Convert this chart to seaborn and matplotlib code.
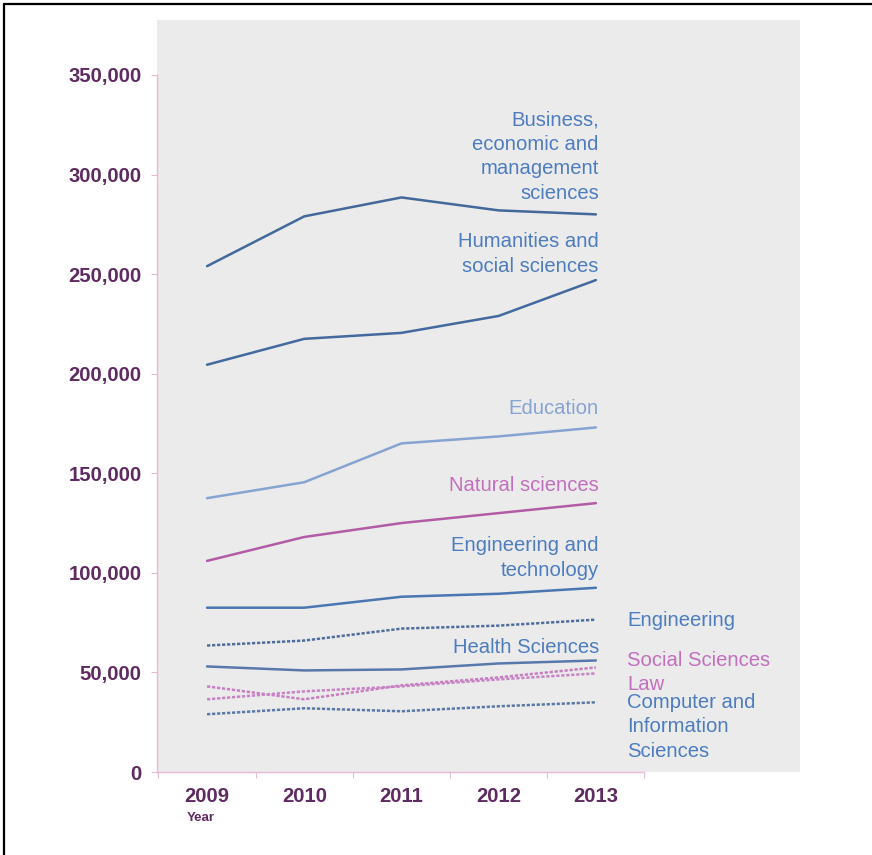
import matplotlib
matplotlib.use("Agg")
import matplotlib.pyplot as plt
import matplotlib.ticker as mticker
from matplotlib.lines import Line2D
import pandas as pd
import seaborn as sns

years = [2009, 2010, 2011, 2012, 2013]

business = [254000, 279000, 288500, 282000, 280000]
humanities = [204500, 217500, 220500, 229000, 247000]
education = [137500, 145500, 165000, 168500, 173000]
natural_sciences = [106000, 118000, 125000, 130000, 135000]
eng_technology = [82500, 82500, 88000, 89500, 92500]
engineering = [63500, 66000, 72000, 73500, 76500]
health = [53000, 51000, 51500, 54500, 56000]
social_sciences = [43000, 36500, 43500, 47500, 52500]
law = [36500, 40500, 43000, 46500, 49500]
computer = [29000, 32000, 30500, 33000, 35000]

series = [
    ("Business", business, "#43689a", "-"),
    ("Humanities", humanities, "#43699e", "-"),
    ("Education", education, "#86a3d2", "-"),
    ("Natural sciences", natural_sciences, "#b25ba6", "-"),
    ("Engineering and technology", eng_technology, "#4a76b2", "-"),
    ("Engineering", engineering, "#4f6d9c", (0, (1.3, 0.7))),
    ("Health Sciences", health, "#5878ac", "-"),
    ("Social Sciences", social_sciences, "#c77ec0", (0, (1.3, 0.7))),
    ("Law", law, "#c783c6", (0, (1.3, 0.7))),
    ("Computer", computer, "#5a78a8", (0, (1.3, 0.7))),
]

blue_txt = "#4d7cbf"
pink_txt = "#c26fbe"
purple = "#5f2a61"
axis_pink = "#e6b9d6"

sns.set_theme(style="white")
plt.rcParams["font.family"] = ["Liberation Sans", "DejaVu Sans"]

fig = plt.figure(figsize=(8.72, 8.55), dpi=100)
ax = fig.add_axes([157 / 872, 1 - 772 / 855, (800 - 157) / 872, (772 - 20) / 855])
ax.set_facecolor("#ebebeb")

for name, vals, color, ls in series:
    df = pd.DataFrame({"Year": years, "Value": vals})
    sns.lineplot(data=df, x="Year", y="Value", ax=ax, color=color,
                 linestyle=ls, linewidth=1.8)

ax.set_xlim(2008.485, 2015.1)
ax.set_ylim(0, 377600)

# labels inside the plot
fs = 14.6
lsp = 1.38
ax.text(2013.03, 309000, "Business,\neconomic and\nmanagement\nsciences",
        ha="right", va="center", color=blue_txt, fontsize=fs, linespacing=lsp)
ax.text(2013.03, 260000, "Humanities and\nsocial sciences",
        ha="right", va="center", color=blue_txt, fontsize=fs, linespacing=lsp)
ax.text(2013.03, 182400, "Education", ha="right", va="center",
        color="#86a3d2", fontsize=fs)
ax.text(2013.03, 143700, "Natural sciences", ha="right", va="center",
        color=pink_txt, fontsize=fs)
ax.text(2013.03, 107300, "Engineering and\ntechnology", ha="right",
        va="center", color=blue_txt, fontsize=fs, linespacing=lsp)
ax.text(2013.03, 62300, "Health Sciences", ha="right", va="center",
        color=blue_txt, fontsize=fs)

ax.text(2013.32, 75900, "Engineering", ha="left", va="center",
        color=blue_txt, fontsize=fs)
ax.text(2013.32, 55800, "Social Sciences", ha="left", va="center",
        color=pink_txt, fontsize=fs)
ax.text(2013.32, 43700, "Law", ha="left", va="center",
        color=pink_txt, fontsize=fs)
ax.text(2013.32, 22600, "Computer and\nInformation\nSciences", ha="left",
        va="center", color=blue_txt, fontsize=fs, linespacing=lsp)

# axes styling
for side in ["top", "right"]:
    ax.spines[side].set_visible(False)
ax.spines["left"].set_color(axis_pink)
ax.spines["bottom"].set_color(axis_pink)
ax.spines["left"].set_linewidth(1.0)
ax.spines["bottom"].set_linewidth(1.0)
ax.spines["left"].set_bounds(0, 350000)
ax.spines["bottom"].set_bounds(2008.485, 2013.5)

ax.set_yticks(range(0, 350001, 50000))
ax.yaxis.set_major_formatter(mticker.FuncFormatter(lambda v, p: f"{int(v):,}"))
ax.tick_params(axis="y", which="major", length=4, width=0.8, color=axis_pink,
               labelsize=14.6, labelcolor=purple, pad=7, left=True)

ax.set_xticks(years)
ax.set_xticklabels([str(y) for y in years])
ax.set_xticks([2008.5, 2009.5, 2010.5, 2011.5, 2012.5, 2013.5], minor=True)
ax.tick_params(axis="x", which="major", length=0, labelsize=14.6,
               labelcolor=purple, pad=11)
ax.tick_params(axis="x", which="minor", length=4, width=0.8,
               color=axis_pink, bottom=True)
for lbl in ax.get_xticklabels() + ax.get_yticklabels():
    lbl.set_fontweight("bold")

ax.set_xlabel("")
ax.set_ylabel("")
ax.grid(False)

fig.text(187 / 872, 1 - 818 / 855, "Year", ha="left", va="center",
         fontsize=9.5, fontweight="bold", color=purple)

# screenshot frame (top and left edges)
fig.add_artist(Line2D([4 / 872, 1], [1 - 4 / 855, 1 - 4 / 855],
                      transform=fig.transFigure, color="black", linewidth=1.6))
fig.add_artist(Line2D([4 / 872, 4 / 872], [0, 1 - 4 / 855],
                      transform=fig.transFigure, color="black", linewidth=1.6))

fig.savefig("out.png", dpi=100)
